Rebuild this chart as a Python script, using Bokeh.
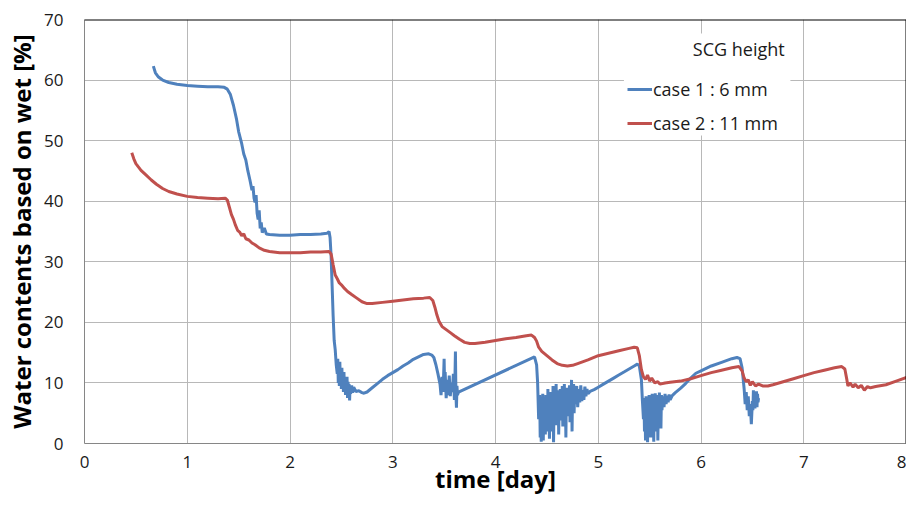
from bokeh.plotting import figure
from bokeh.models import Legend, LegendItem, Span, BoxAnnotation, Label, FixedTicker
from bokeh.embed import file_html
from bokeh.resources import INLINE

FONT = "Open Sans"

x_ticks = [0, 1, 2, 3, 4, 5, 6, 7, 8]
y_ticks = [0, 10, 20, 30, 40, 50, 60, 70]
x_label = "time [day]"
y_label = "Water contents based on wet [%]"
legend_title = "SCG height"
series_names = ["case 1 : 6 mm", "case 2 : 11 mm"]

# case 1 (SCG height 6 mm): (time [day], water content [%])
case1_points = [
    (0.67, 62.3), (0.69, 61.2), (0.72, 60.5), (0.76, 60.0), (0.82, 59.6), (0.90, 59.3),
    (1.00, 59.1), (1.10, 59.0), (1.20, 58.9), (1.30, 58.9), (1.36, 58.8), (1.39, 58.5),
    (1.42, 57.6), (1.45, 55.8), (1.48, 53.5), (1.50, 51.5), (1.53, 49.5), (1.55, 47.8),
    (1.57, 46.8), (1.59, 45.0), (1.61, 43.5), (1.63, 41.8), (1.64, 42.5), (1.65, 40.5),
    (1.66, 39.8), (1.67, 41.0), (1.68, 38.0), (1.69, 37.0), (1.70, 38.5), (1.71, 35.5),
    (1.72, 36.5), (1.73, 34.8), (1.75, 35.6), (1.77, 34.6), (1.80, 34.5), (1.90, 34.4),
    (2.00, 34.4), (2.10, 34.5), (2.20, 34.5), (2.30, 34.6), (2.36, 34.7), (2.38, 35.0),
    (2.39, 34.0), (2.40, 31.0), (2.41, 26.0), (2.42, 21.0), (2.43, 17.0), (2.44, 15.5),
    (2.45, 13.0), (2.46, 11.5), (2.465, 14.0), (2.47, 10.0), (2.475, 12.8), (2.48, 9.5),
    (2.485, 13.5), (2.49, 10.2), (2.495, 12.0), (2.50, 9.0), (2.505, 12.5), (2.51, 9.8),
    (2.515, 11.2), (2.52, 8.5), (2.525, 11.8), (2.53, 9.2), (2.535, 10.8), (2.54, 8.0),
    (2.545, 10.5), (2.55, 8.8), (2.555, 11.0), (2.56, 7.5), (2.565, 10.2), (2.57, 8.6),
    (2.575, 9.8), (2.58, 7.1), (2.585, 9.5), (2.59, 8.2), (2.60, 9.6), (2.61, 8.4),
    (2.62, 9.3), (2.64, 8.6), (2.67, 8.7), (2.70, 8.4), (2.72, 8.3), (2.75, 8.5),
    (2.80, 9.2), (2.85, 9.9), (2.90, 10.6), (2.95, 11.2), (3.00, 11.7), (3.05, 12.2),
    (3.10, 12.8), (3.15, 13.3), (3.20, 13.9), (3.25, 14.3), (3.30, 14.7), (3.35, 14.8),
    (3.38, 14.6), (3.40, 14.2), (3.42, 13.0), (3.44, 11.5), (3.46, 9.8), (3.47, 8.0),
    (3.48, 11.0), (3.49, 8.5), (3.50, 14.0), (3.505, 9.0), (3.51, 11.8), (3.52, 7.5),
    (3.53, 10.5), (3.54, 8.0), (3.55, 11.2), (3.56, 7.8), (3.57, 10.0), (3.58, 8.5),
    (3.59, 11.5), (3.60, 7.2), (3.605, 10.5), (3.61, 15.2), (3.615, 8.0), (3.62, 5.9),
    (3.625, 9.5), (3.63, 8.0), (3.64, 8.5), (4.38, 14.3), (4.40, 13.0), (4.41, 10.0),
    (4.42, 4.0), (4.43, 8.0), (4.435, 1.0), (4.44, 7.0), (4.445, 0.3), (4.45, 6.5),
    (4.455, 2.5), (4.46, 8.2), (4.465, 0.5), (4.47, 6.0), (4.475, 3.0), (4.48, 7.5),
    (4.485, 1.5), (4.49, 8.0), (4.495, 3.5), (4.50, 6.8), (4.505, 2.0), (4.51, 9.0),
    (4.515, 4.0), (4.52, 7.5), (4.525, 0.8), (4.53, 6.5), (4.535, 3.0), (4.54, 8.5),
    (4.545, 4.5), (4.55, 7.0), (4.555, 2.0), (4.56, 9.5), (4.565, 0.2), (4.57, 7.0),
    (4.575, 3.5), (4.58, 8.0), (4.585, 4.5), (4.59, 9.8), (4.595, 3.0), (4.60, 7.5),
    (4.605, 5.0), (4.61, 8.8), (4.615, 1.5), (4.62, 7.2), (4.625, 4.5), (4.63, 9.0),
    (4.635, 3.8), (4.64, 7.8), (4.645, 5.2), (4.65, 9.5), (4.655, 2.8), (4.66, 8.0),
    (4.665, 5.5), (4.67, 9.8), (4.675, 4.0), (4.68, 7.5), (4.685, 1.0), (4.69, 8.5),
    (4.695, 5.5), (4.70, 9.2), (4.705, 4.5), (4.71, 8.0), (4.715, 6.0), (4.72, 9.6),
    (4.725, 3.5), (4.73, 8.2), (4.735, 6.2), (4.74, 10.5), (4.745, 2.0), (4.75, 8.0),
    (4.755, 6.5), (4.76, 9.8), (4.765, 5.0), (4.77, 8.5), (4.78, 6.5), (4.79, 9.5),
    (4.80, 6.0), (4.81, 9.0), (4.82, 6.8), (4.83, 9.6), (4.84, 7.0), (4.85, 8.8),
    (4.86, 7.2), (4.87, 9.4), (4.88, 7.8), (4.89, 9.0), (4.90, 8.2), (4.92, 8.6),
    (4.96, 8.9), (5.00, 9.3), (5.05, 9.8), (5.10, 10.3), (5.15, 10.8), (5.20, 11.3),
    (5.25, 11.8), (5.30, 12.3), (5.35, 12.8), (5.38, 13.1), (5.40, 12.8), (5.42, 10.5),
    (5.43, 7.0), (5.44, 4.0), (5.445, 7.5), (5.45, 2.0), (5.455, 6.8), (5.46, 0.5),
    (5.465, 7.8), (5.47, 3.0), (5.475, 6.0), (5.48, 0.2), (5.485, 7.2), (5.49, 2.5),
    (5.495, 8.0), (5.50, 4.0), (5.505, 6.5), (5.51, 1.0), (5.515, 7.8), (5.52, 3.5),
    (5.525, 8.2), (5.53, 5.0), (5.535, 6.8), (5.54, 0.3), (5.545, 7.5), (5.55, 4.5),
    (5.555, 8.3), (5.56, 2.0), (5.565, 7.0), (5.57, 5.5), (5.575, 8.0), (5.58, 0.5),
    (5.585, 7.2), (5.59, 4.0), (5.595, 8.4), (5.60, 5.8), (5.605, 7.5), (5.61, 2.5),
    (5.615, 8.0), (5.62, 5.5), (5.63, 7.8), (5.64, 6.0), (5.65, 8.2), (5.66, 6.5),
    (5.67, 7.9), (5.68, 6.8), (5.69, 8.1), (5.70, 7.2), (5.72, 7.9), (5.75, 8.4),
    (5.80, 9.1), (5.85, 9.9), (5.90, 10.8), (5.95, 11.6), (6.00, 12.0), (6.10, 12.8),
    (6.20, 13.4), (6.30, 14.0), (6.35, 14.2), (6.38, 14.0), (6.40, 12.5), (6.42, 9.0),
    (6.43, 6.5), (6.44, 8.5), (6.45, 5.5), (6.46, 7.8), (6.47, 4.5), (6.48, 6.5),
    (6.49, 3.2), (6.50, 7.0), (6.505, 5.5), (6.51, 8.8), (6.515, 6.0), (6.52, 8.5),
    (6.525, 5.8), (6.53, 8.0), (6.535, 6.2), (6.54, 8.6), (6.545, 6.0), (6.55, 8.2),
    (6.555, 6.8), (6.56, 7.5),
]

# case 2 (SCG height 11 mm): (time [day], water content [%])
case2_points = [
    (0.46, 48.0), (0.48, 47.0), (0.50, 46.2), (0.55, 45.1), (0.60, 44.3), (0.65, 43.5),
    (0.70, 42.8), (0.76, 42.1), (0.82, 41.6), (0.90, 41.2), (1.00, 40.8), (1.10, 40.6),
    (1.20, 40.5), (1.30, 40.4), (1.37, 40.5), (1.39, 40.2), (1.41, 39.0), (1.43, 37.8),
    (1.45, 37.0), (1.47, 36.0), (1.49, 35.2), (1.51, 34.9), (1.53, 34.3), (1.55, 34.6),
    (1.57, 33.8), (1.60, 33.6), (1.63, 33.1), (1.66, 32.8), (1.70, 32.3), (1.75, 31.9),
    (1.80, 31.7), (1.90, 31.5), (2.00, 31.5), (2.10, 31.5), (2.20, 31.6), (2.30, 31.6),
    (2.38, 31.7), (2.40, 31.3), (2.42, 29.5), (2.44, 27.8), (2.46, 27.2), (2.48, 26.5),
    (2.50, 26.2), (2.53, 25.6), (2.56, 25.1), (2.60, 24.6), (2.65, 24.0), (2.70, 23.4),
    (2.75, 23.1), (2.80, 23.1), (2.90, 23.3), (3.00, 23.5), (3.10, 23.7), (3.20, 23.9),
    (3.30, 24.0), (3.36, 24.1), (3.39, 23.6), (3.41, 22.5), (3.43, 21.2), (3.45, 20.2),
    (3.48, 19.3), (3.52, 18.8), (3.56, 18.3), (3.60, 17.8), (3.65, 17.2), (3.70, 16.7),
    (3.75, 16.5), (3.80, 16.5), (3.90, 16.7), (4.00, 17.0), (4.10, 17.3), (4.20, 17.5),
    (4.30, 17.8), (4.35, 17.9), (4.38, 17.5), (4.40, 16.9), (4.42, 15.9), (4.45, 15.2),
    (4.50, 14.5), (4.55, 13.8), (4.60, 13.2), (4.65, 12.9), (4.70, 12.8), (4.75, 12.9),
    (4.80, 13.2), (4.90, 13.8), (5.00, 14.5), (5.10, 14.9), (5.20, 15.3), (5.30, 15.7),
    (5.35, 15.9), (5.38, 15.8), (5.40, 14.5), (5.42, 12.2), (5.44, 11.0), (5.46, 10.6),
    (5.48, 11.3), (5.50, 10.3), (5.52, 10.8), (5.55, 10.0), (5.58, 10.2), (5.60, 9.8),
    (5.65, 10.0), (5.70, 10.1), (5.80, 10.3), (5.90, 10.7), (6.00, 11.2), (6.10, 11.7),
    (6.20, 12.1), (6.30, 12.5), (6.37, 12.7), (6.40, 12.0), (6.42, 10.8), (6.44, 10.2),
    (6.46, 10.5), (6.48, 9.6), (6.50, 10.2), (6.53, 9.5), (6.56, 9.8), (6.60, 9.5),
    (6.65, 9.5), (6.70, 9.7), (6.80, 10.2), (6.90, 10.7), (7.00, 11.2), (7.10, 11.7),
    (7.20, 12.1), (7.30, 12.5), (7.37, 12.7), (7.40, 12.3), (7.42, 10.5), (7.43, 9.5),
    (7.45, 10.0), (7.48, 9.3), (7.50, 9.8), (7.53, 9.2), (7.56, 9.6), (7.59, 8.8),
    (7.62, 9.4), (7.65, 9.2), (7.70, 9.4), (7.80, 9.7), (7.90, 10.3), (8.00, 10.9),
]

case1_day = [p[0] for p in case1_points]
case1_wc = [p[1] for p in case1_points]
case2_day = [p[0] for p in case2_points]
case2_wc = [p[1] for p in case2_points]

BLUE = "#4F81BD"
RED = "#C0504D"
GRID = "#B8B8B8"
AXIS = "#868686"
TEXT = "#1a1a1a"

p = figure(width=906, height=502, x_range=(0, 8), y_range=(0, 70),
           output_backend="svg", toolbar_location=None,
           min_border_left=84, min_border_right=0, min_border_top=19, min_border_bottom=59)
p.outline_line_color = None
p.background_fill_color = "white"

for ax in (p.xaxis, p.yaxis):
    ax.axis_line_color = AXIS
    ax.axis_line_width = 1
    ax.major_tick_line_color = None
    ax.minor_tick_line_color = None
    ax.major_tick_out = 0
    ax.major_tick_in = 0
    ax.major_label_text_font = FONT
    ax.major_label_text_font_size = "17px"
    ax.major_label_text_color = TEXT
    ax.axis_label_text_font = FONT
    ax.axis_label_text_font_style = "bold"
    ax.axis_label_text_font_size = "24px"
    ax.axis_label_text_color = "black"

p.xaxis.ticker = FixedTicker(ticks=x_ticks)
p.yaxis.ticker = FixedTicker(ticks=y_ticks)
p.xaxis.axis_label = x_label
p.yaxis.axis_label = y_label
p.xaxis.major_label_standoff = 12
p.yaxis.major_label_standoff = 21
p.xaxis.axis_label_standoff = -9
p.yaxis.axis_label_standoff = 3

p.xgrid.ticker = FixedTicker(ticks=x_ticks)
p.ygrid.ticker = FixedTicker(ticks=y_ticks)
p.grid.grid_line_color = GRID
p.grid.grid_line_width = 1

r1 = p.line(case1_day, case1_wc, line_color=BLUE, line_width=3)
r2 = p.line(case2_day, case2_wc, line_color=RED, line_width=3)

p.add_layout(Span(location=70, dimension="width", line_color="black", line_width=2))
p.add_layout(Span(location=8, dimension="height", line_color="black", line_width=2))

# white legend background
p.add_layout(BoxAnnotation(left=5.25, right=6.87, bottom=50.85, top=67.7,
                           fill_color="white", fill_alpha=1.0, line_color=None))

p.add_layout(Label(x=5.92, y=65.2, text=legend_title, text_font=FONT,
                   text_font_size="18px", text_color=TEXT, text_baseline="alphabetic"))

legend = Legend(items=[LegendItem(label=series_names[0], renderers=[r1]),
                       LegendItem(label=series_names[1], renderers=[r2])],
                location=(543, 308), padding=0, margin=0, spacing=10,
                glyph_width=25, glyph_height=20, label_standoff=1,
                label_text_font=FONT, label_text_font_size="18px",
                label_text_color=TEXT, background_fill_alpha=0,
                border_line_color=None)
p.add_layout(legend)

open("out.html", "w").write(file_html(p, INLINE))
